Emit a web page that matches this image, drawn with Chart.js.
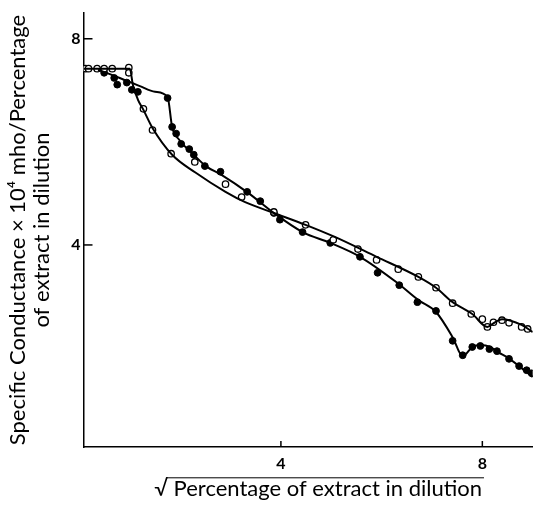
<!DOCTYPE html>
<html>
<head>
<meta charset="utf-8">
<script src="https://cdn.jsdelivr.net/npm/chart.js@4.4.0/dist/chart.umd.min.js"></script>
<style>
  html, body { margin: 0; padding: 0; background: #fff; }
</style>
</head>
<body>
<canvas id="myChart" width="538" height="505"></canvas>
<script>
// tick labels
var xTickValues = [4, 8];
var yTickValues = [4, 8];

// open circles
var openX = [0.12, 0.18, 0.35, 0.49, 0.65, 0.98, 0.98, 1.27, 1.45, 1.82, 2.29, 2.90, 3.22, 3.86, 4.49, 5.04, 5.53, 5.90, 6.33, 6.73, 7.08, 7.41, 7.78, 8.00, 8.10, 8.22, 8.39, 8.53, 8.78, 8.90];
var openY = [7.42, 7.42, 7.42, 7.42, 7.42, 7.44, 7.34, 6.64, 6.23, 5.77, 5.61, 5.18, 4.93, 4.64, 4.39, 4.10, 3.92, 3.71, 3.53, 3.38, 3.17, 2.87, 2.66, 2.56, 2.41, 2.50, 2.54, 2.49, 2.41, 2.37];

// filled circles
var filledX = [0.49, 0.69, 0.75, 0.94, 1.04, 1.16, 1.75, 1.84, 1.92, 2.02, 2.18, 2.27, 2.49, 2.80, 3.33, 3.59, 3.86, 3.98, 4.43, 4.98, 5.57, 5.92, 6.35, 6.71, 7.08, 7.41, 7.61, 7.80, 7.96, 8.14, 8.29, 8.53, 8.73, 8.88, 8.98];
var filledY = [7.34, 7.24, 7.11, 7.15, 7.01, 6.97, 6.85, 6.29, 6.16, 5.96, 5.86, 5.75, 5.53, 5.42, 5.03, 4.85, 4.62, 4.49, 4.25, 4.04, 3.77, 3.46, 3.22, 2.89, 2.72, 2.14, 1.86, 2.02, 2.04, 1.98, 1.94, 1.79, 1.65, 1.57, 1.51];

// hand-drawn curves through the points
var openCurveX = [0.08, 1.00, 1.06, 1.16, 1.27, 1.45, 1.84, 2.31, 2.90, 3.29, 3.86, 4.49, 5.06, 5.90, 6.73, 7.08, 7.41, 7.80, 8.10, 8.25, 8.39, 8.78, 9.00];
var openCurveY = [7.42, 7.42, 7.11, 6.82, 6.62, 6.27, 5.75, 5.40, 5.03, 4.83, 4.62, 4.39, 4.16, 3.77, 3.38, 3.17, 2.89, 2.66, 2.41, 2.50, 2.56, 2.45, 2.31];
var filledCurveX = [0.37, 0.80, 1.20, 1.50, 1.75, 1.84, 1.98, 2.27, 2.51, 2.82, 3.35, 3.86, 4.43, 4.98, 5.57, 6.29, 6.73, 7.08, 7.41, 7.61, 7.80, 7.96, 8.16, 8.31, 8.51, 9.00];
var filledCurveY = [7.40, 7.24, 7.08, 6.97, 6.87, 6.29, 6.04, 5.75, 5.53, 5.36, 5.01, 4.62, 4.25, 4.04, 3.77, 3.28, 2.93, 2.70, 2.21, 1.84, 2.02, 2.06, 2.02, 1.92, 1.81, 1.44];

var xTitle = '\u221A Percentage of extract in dilution';
var yTitle = ['Specific Conductance \u00D7 10\u2074 mho/Percentage', 'of extract in dilution'];

function pts(xs, ys) {
  return xs.map(function (x, i) { return { x: x, y: ys[i] }; });
}

var FONT = 'Lato, "Open Sans", sans-serif';
var TITLE_SIZE = 22;

// inward ticks + x title with the square-root overline
var extras = {
  id: 'extras',
  afterDraw: function (chart) {
    var c = chart.ctx, xs = chart.scales.x, ys = chart.scales.y, a = chart.chartArea;
    c.save();
    c.strokeStyle = '#000';
    c.fillStyle = '#000';
    c.lineWidth = 1.5;
    xTickValues.forEach(function (v) {
      var px = xs.getPixelForValue(v);
      c.beginPath(); c.moveTo(px, a.bottom); c.lineTo(px, a.bottom - 6); c.stroke();
    });
    yTickValues.forEach(function (v) {
      var py = ys.getPixelForValue(v);
      c.beginPath(); c.moveTo(a.left, py); c.lineTo(a.left + 9, py); c.stroke();
    });

    c.font = TITLE_SIZE + 'px ' + FONT;
    c.textAlign = 'center';
    c.textBaseline = 'middle';
    var cx = (a.left + a.right) / 2 + 10;
    var ty = xs.bottom - 3 - TITLE_SIZE * 0.6;
    c.fillText(xTitle, cx, ty);
    var full = c.measureText(xTitle).width;
    var root = c.measureText('\u221A').width;
    c.lineWidth = 1;
    c.beginPath();
    c.moveTo(cx - full / 2 + root - 1, ty - 11);
    c.lineTo(cx + full / 2 + 2, ty - 11);
    c.stroke();
    c.restore();
  }
};

var ctx = document.getElementById('myChart').getContext('2d');
var chart = new Chart(ctx, {
  type: 'scatter',
  data: {
    datasets: [{
      label: 'open curve',
      data: pts(openCurveX, openCurveY),
      showLine: true,
      borderColor: '#000',
      borderWidth: 2,
      pointRadius: 0,
      cubicInterpolationMode: 'monotone'
    }, {
      label: 'filled curve',
      data: pts(filledCurveX, filledCurveY),
      showLine: true,
      borderColor: '#000',
      borderWidth: 2,
      pointRadius: 0,
      cubicInterpolationMode: 'monotone'
    }, {
      label: 'open',
      data: pts(openX, openY),
      pointRadius: 3.2,
      pointBackgroundColor: '#fff',
      pointBorderColor: '#000',
      pointBorderWidth: 1.3
    }, {
      label: 'filled',
      data: pts(filledX, filledY),
      pointRadius: 3.4,
      pointBackgroundColor: '#000',
      pointBorderColor: '#000',
      pointBorderWidth: 1
    }]
  },
  options: {
    responsive: false,
    animation: false,
    events: [],
    layout: { padding: { top: 13, right: 0, left: 0, bottom: 0 } },
    plugins: { legend: { display: false }, tooltip: { enabled: false } },
    scales: {
      x: {
        type: 'linear',
        min: 0.08,
        max: 9.0,
        afterFit: function (s) { s.height = 58; },
        afterBuildTicks: function (s) { s.ticks = xTickValues.map(function (v) { return { value: v }; }); },
        grid: { drawOnChartArea: false, drawTicks: false },
        border: { color: '#000', width: 1.5 },
        ticks: { color: '#000', padding: 7, font: { family: FONT, size: 16, weight: 'bold' } },
        title: { display: false }
      },
      y: {
        type: 'linear',
        min: 0.08,
        max: 8.5,
        afterFit: function (s) { s.width = 83.5; },
        afterBuildTicks: function (s) { s.ticks = yTickValues.map(function (v) { return { value: v }; }); },
        grid: { drawOnChartArea: false, drawTicks: false },
        border: { color: '#000', width: 1.5 },
        ticks: { color: '#000', padding: 3, font: { family: FONT, size: 16, weight: 'bold' } },
        title: { display: true, text: yTitle, color: '#000', padding: { top: 6, bottom: 0 }, font: { family: FONT, size: TITLE_SIZE, lineHeight: 1.1 } }
      }
    }
  },
  plugins: [extras]
});
</script>
</body>
</html>
